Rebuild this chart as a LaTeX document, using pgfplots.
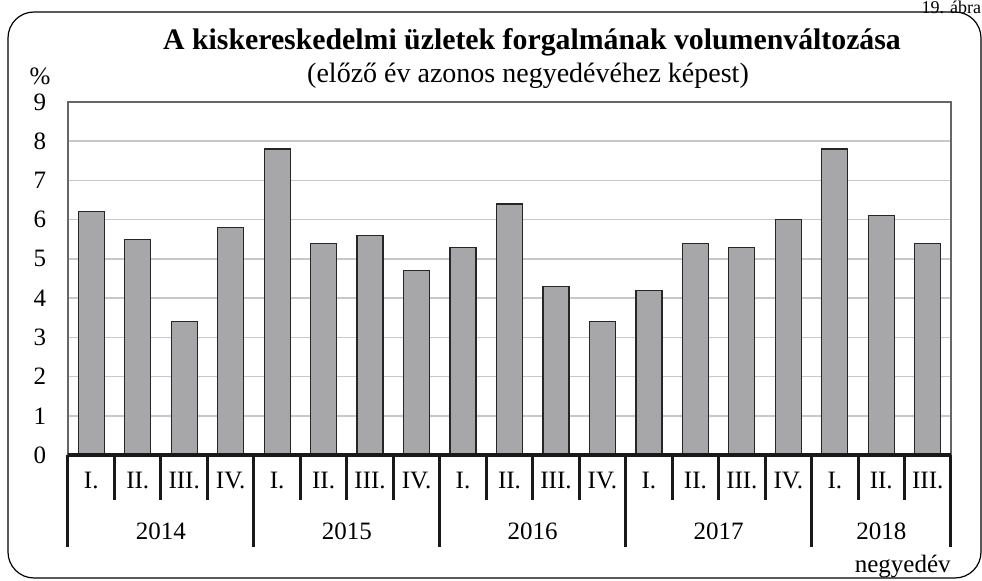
\documentclass[border=0pt]{standalone}
\usepackage{fontspec}
\setmainfont{Liberation Serif}
\usepackage{pgfplots}
\pgfplotsset{compat=1.18}
\definecolor{barfill}{HTML}{A7A7AA}
\definecolor{gridc}{HTML}{C8C8C8}
\begin{document}
\fontsize{12.5}{15}\selectfont
\begin{tikzpicture}
\useasboundingbox (0,0) rectangle (491pt,290.5pt);
\draw[line width=0.6pt, rounded corners=13pt] (4pt,1.5pt) rectangle (490.5pt,284.5pt);
\node[anchor=north east, inner sep=0.3pt, font=\fontsize{9}{10}\selectfont] at (491pt,290.5pt) {19. ábra};
\node[font=\bfseries\fontsize{14.9}{18}\selectfont] at (266pt,269.5pt) {A kiskereskedelmi üzletek forgalmának volumenváltozása};
\node[font=\fontsize{14}{16}\selectfont] at (264pt,252.5pt) {(előző év azonos negyedévéhez képest)};
\node at (20pt,252.5pt) {\%};
\node[anchor=east, inner sep=0pt] at (475.5pt,7pt) {negyedév};
\begin{axis}[
  at={(34pt,63pt)}, anchor=south west,
  scale only axis, width=441.5pt, height=176.5pt,
  xmin=-0.5, xmax=18.5, ymin=0, ymax=9,
  ytick={0,1,...,9},
  xtick={0,...,18},
  xticklabels={I.,II.,III.,IV.,I.,II.,III.,IV.,I.,II.,III.,IV.,I.,II.,III.,IV.,I.,II.,III.},
  major tick length=0pt,
  /pgf/number format/assume math mode=true,
  yticklabel style={anchor=center, xshift=-14pt},
  xticklabel style={anchor=center, yshift=-13pt},
  ymajorgrids, grid style={gridc, line width=0.8pt},
  axis line style={draw=gray!80!black, line width=0.7pt},
  ybar, bar width=13pt,
  clip=false,
]
\addplot[fill=barfill, draw=black!85, line width=0.6pt] coordinates {
(0,6.2) (1,5.5) (2,3.4) (3,5.8)
(4,7.8) (5,5.4) (6,5.6) (7,4.7)
(8,5.3) (9,6.4) (10,4.3) (11,3.4)
(12,4.2) (13,5.4) (14,5.3) (15,6.0)
(16,7.8) (17,6.1) (18,5.4)};
\draw[line width=2pt, black!90] (axis cs:-0.5,0) -- (axis cs:18.5,0);
\pgfplotsinvokeforeach{0.5,1.5,2.5,4.5,5.5,6.5,8.5,9.5,10.5,12.5,13.5,14.5,16.5,17.5}
  {\draw[line width=1.5pt, black!90] (axis cs:#1,0) -- ([yshift=-22.5pt]axis cs:#1,0);}
\pgfplotsinvokeforeach{-0.5,3.5,7.5,11.5,15.5,18.5}
  {\draw[line width=1.5pt, black!90] (axis cs:#1,0) -- ([yshift=-46pt]axis cs:#1,0);}
\node at (axis cs:1.5,0) [yshift=-38pt] {2014};
\node at (axis cs:5.5,0) [yshift=-38pt] {2015};
\node at (axis cs:9.5,0) [yshift=-38pt] {2016};
\node at (axis cs:13.5,0) [yshift=-38pt] {2017};
\node at (axis cs:17,0) [yshift=-38pt] {2018};
\end{axis}
\end{tikzpicture}
\end{document}
